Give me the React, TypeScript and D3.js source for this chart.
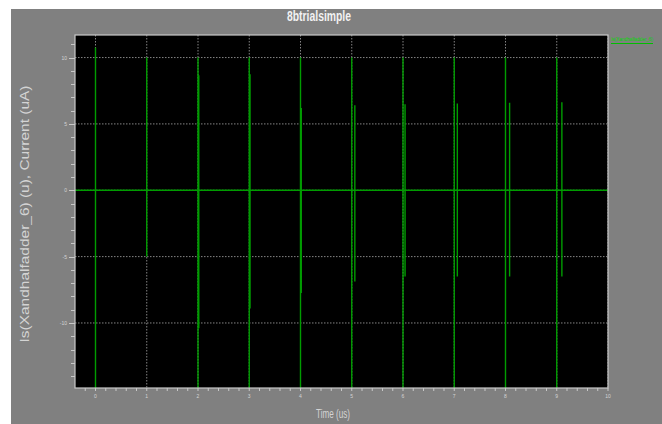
import React from "react";
import * as d3 from "d3";

// Transient current of Is(Xandhalfadder_6) over time
const chartTitle = "8btrialsimple";
const yAxisTitle = "Is(Xandhalfadder_6) (u), Current (uA)";
const xAxisTitle = "Time (us)";
const seriesName = "Is(Xandhalfadder_6)";

// Main switching spikes at each clock edge (us, uA)
const edgeTimes = [0, 1, 2, 3, 4, 5, 6, 7, 8, 9];
const edgeHigh = [10.75, 10, 10, 10, 10, 10, 10, 10, 10, 10];
const edgeLow = [-16, -5, -16, -16, -16, -16, -16, -16, -16, -16];

// Secondary spikes shortly after the edges
const echoTimes = [2.015, 3.015, 4.015, 5.06, 6.04, 7.06, 8.08, 9.1];
const echoHigh = [8.67, 8.75, 6.2, 6.41, 6.49, 6.54, 6.59, 6.64];
const echoLow = [-10.4, -8.9, -7.75, -6.87, -6.49, -6.49, -6.49, -6.49];

const xMajorTicks = [0, 1, 2, 3, 4, 5, 6, 7, 8, 9, 10];
const yMajorTicks = [-10, -5, 0, 5, 10];

const W = 662;
const H = 424;
const plot = { left: 75, right: 608, top: 35, bottom: 388 };

export default function App() {
  const x = d3.scaleLinear().domain([-0.4, 10]).range([plot.left, plot.right]);
  const y = d3.scaleLinear().domain([-14.9, 11.7]).range([plot.bottom, plot.top]);

  // Build the waveform: flat at zero, with a vertical excursion at each spike
  const spikes = [
    ...edgeTimes.map((t, i) => ({ t, hi: edgeHigh[i], lo: edgeLow[i] })),
    ...echoTimes.map((t, i) => ({ t, hi: echoHigh[i], lo: echoLow[i] })),
  ].sort((a, b) => a.t - b.t);

  const pts: [number, number][] = [[-0.4, 0]];
  spikes.forEach((s) => {
    pts.push([s.t, 0], [s.t, s.hi], [s.t, s.lo], [s.t, 0]);
  });
  pts.push([10, 0]);

  const line = d3
    .line<[number, number]>()
    .x((d) => x(d[0]))
    .y((d) => y(d[1]));

  const xMinor = d3.range(-0.2, 10.001, 0.2).map((v) => +v.toFixed(1));
  const yMinor = d3.range(-14, 12, 1);

  const gridColor = "#858585";
  const axisColor = "#c8c8c8";
  const labelColor = "#d4d4d4";

  return (
    <svg
      width={W}
      height={H}
      style={{ position: "absolute", left: 0, top: 0, background: "#ffffff" }}
    >
      <rect x={11} y={9} width={W - 11} height={H - 9} fill="#808080" />

      <text
        x={319}
        y={21}
        textAnchor="middle"
        fontFamily="'Liberation Sans Narrow', 'Liberation Sans', Arial, sans-serif"
        fontWeight="bold"
        fontSize={14}
        fill="#f2f2f2"
        textLength={64}
        lengthAdjust="spacingAndGlyphs"
      >
        {chartTitle}
      </text>

      <rect
        x={plot.left}
        y={plot.top}
        width={plot.right - plot.left}
        height={plot.bottom - plot.top}
        fill="#000000"
      />

      <defs>
        <clipPath id="plotClip">
          <rect
            x={plot.left}
            y={plot.top}
            width={plot.right - plot.left}
            height={plot.bottom - plot.top}
          />
        </clipPath>
      </defs>

      {/* dotted grid */}
      <g stroke={gridColor} strokeWidth={1} strokeDasharray="1.5,1.5">
        {yMajorTicks.map((v) => (
          <line key={"gy" + v} x1={plot.left} x2={plot.right} y1={y(v)} y2={y(v)} />
        ))}
        {xMajorTicks.map((v) => (
          <line key={"gx" + v} x1={x(v)} x2={x(v)} y1={plot.top} y2={plot.bottom} />
        ))}
      </g>

      {/* current trace */}
      <path
        d={line(pts) || ""}
        fill="none"
        stroke="#009c00"
        strokeWidth={1.4}
        clipPath="url(#plotClip)"
      />

      {/* frame */}
      <rect
        x={plot.left}
        y={plot.top}
        width={plot.right - plot.left}
        height={plot.bottom - plot.top}
        fill="none"
        stroke={axisColor}
        strokeWidth={1.2}
      />

      {/* axis ticks */}
      <g stroke={axisColor} strokeWidth={1}>
        {yMinor.map((v) => (
          <line
            key={"ty" + v}
            x1={yMajorTicks.includes(v) ? 69 : 71}
            x2={plot.left}
            y1={Math.round(y(v)) + 0.5}
            y2={Math.round(y(v)) + 0.5}
          />
        ))}
        {xMinor.map((v) => (
          <line
            key={"tx" + v}
            x1={x(v)}
            x2={x(v)}
            y1={plot.bottom}
            y2={plot.bottom + 3}
          />
        ))}
      </g>

      <g fontFamily="'Liberation Sans', Arial, sans-serif" fontSize={5} fill={labelColor}>
        {yMajorTicks.map((v) => (
          <text key={"ly" + v} x={67} y={y(v) + 2} textAnchor="end">
            {v}
          </text>
        ))}
        {xMajorTicks.map((v) => (
          <text key={"lx" + v} x={x(v)} y={398} textAnchor="middle">
            {v}
          </text>
        ))}
      </g>

      <text
        x={333}
        y={418}
        textAnchor="middle"
        fontFamily="'Liberation Sans Narrow', 'Liberation Sans', Arial, sans-serif"
        fontSize={12}
        fill={labelColor}
        textLength={34}
        lengthAdjust="spacingAndGlyphs"
      >
        {xAxisTitle}
      </text>

      <text
        transform={`translate(29, 214) rotate(-90)`}
        textAnchor="middle"
        fontFamily="'Liberation Sans', Arial, sans-serif"
        fontSize={13}
        fill={labelColor}
        textLength={257}
        lengthAdjust="spacingAndGlyphs"
      >
        {yAxisTitle}
      </text>

      {/* legend */}
      <text
        x={611}
        y={41}
        fontFamily="'Liberation Sans Narrow', 'Liberation Sans', Arial, sans-serif"
        fontSize={5.5}
        fill="#00dc00"
        textLength={42}
        lengthAdjust="spacingAndGlyphs"
      >
        {seriesName}
      </text>
      <line x1={611} x2={653} y1={43.5} y2={43.5} stroke="#00c000" strokeWidth={1} />
    </svg>
  );
}
